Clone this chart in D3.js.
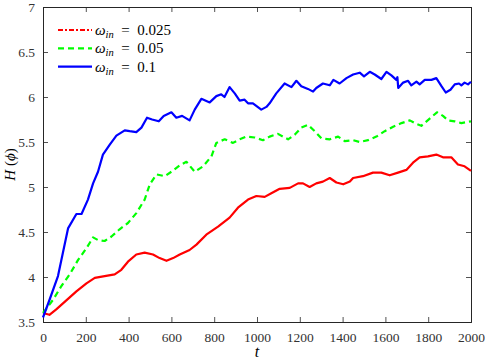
<!DOCTYPE html>
<html>
<head>
<meta charset="utf-8">
<script src="https://cdn.jsdelivr.net/npm/d3@7"></script>
<style>
  body { margin: 0; background: #fff; }
</style>
</head>
<body>
<div id="chart"></div>
<script>
"use strict";

// == DATA ==
var xTicks = [0, 200, 400, 600, 800, 1000, 1200, 1400, 1600, 1800, 2000];
var yTicks = [3.5, 4, 4.5, 5, 5.5, 6, 6.5, 7];
var seriesNames = ["0.025", "0.05", "0.1"];

var redT = [0, 30, 62, 109, 156, 203, 242, 288, 335, 366, 397, 436, 475, 514, 545, 577, 608, 639, 685, 717, 763, 818, 872, 911, 958, 997, 1036, 1067, 1106, 1153, 1192, 1215, 1246, 1277, 1308, 1340, 1371, 1403, 1434, 1449, 1495, 1542, 1581, 1620, 1659, 1698, 1729, 1760, 1799, 1838, 1869, 1908, 1939, 1970, 2000];
var redH = [3.6, 3.58, 3.64, 3.74, 3.84, 3.93, 3.99, 4.01, 4.03, 4.08, 4.17, 4.25, 4.27, 4.25, 4.21, 4.18, 4.21, 4.25, 4.30, 4.36, 4.47, 4.56, 4.66, 4.77, 4.86, 4.90, 4.89, 4.93, 4.98, 4.99, 5.04, 5.04, 5.00, 5.04, 5.06, 5.10, 5.05, 5.03, 5.06, 5.10, 5.12, 5.16, 5.16, 5.13, 5.16, 5.19, 5.27, 5.33, 5.34, 5.36, 5.33, 5.33, 5.25, 5.23, 5.18];

var greenT = [0, 48, 86, 125, 164, 203, 234, 257, 288, 320, 358, 397, 436, 475, 499, 530, 569, 600, 639, 670, 709, 748, 787, 810, 849, 888, 919, 950, 989, 1028, 1059, 1098, 1145, 1176, 1207, 1238, 1270, 1301, 1340, 1379, 1410, 1449, 1480, 1519, 1558, 1597, 1636, 1675, 1714, 1745, 1768, 1807, 1841, 1869, 1893, 1924, 1955, 2000];
var greenH = [3.6, 3.75, 3.90, 4.03, 4.19, 4.32, 4.44, 4.41, 4.40, 4.45, 4.53, 4.60, 4.71, 4.86, 5.03, 5.14, 5.12, 5.17, 5.24, 5.28, 5.17, 5.23, 5.34, 5.49, 5.53, 5.49, 5.53, 5.56, 5.55, 5.52, 5.56, 5.59, 5.53, 5.58, 5.66, 5.69, 5.62, 5.54, 5.53, 5.56, 5.51, 5.52, 5.50, 5.52, 5.56, 5.62, 5.67, 5.71, 5.74, 5.70, 5.68, 5.76, 5.83, 5.79, 5.74, 5.73, 5.71, 5.73];

var blueT = [0, 31, 70, 93, 117, 156, 180, 210, 234, 257, 280, 312, 343, 382, 405, 436, 460, 486, 510, 541, 564, 600, 623, 650, 685, 709, 740, 779, 810, 833, 848, 872, 896, 919, 942, 958, 981, 1020, 1044, 1059, 1090, 1129, 1161, 1184, 1207, 1238, 1262, 1277, 1308, 1340, 1357, 1386, 1418, 1449, 1480, 1500, 1527, 1550, 1581, 1605, 1628, 1651, 1656, 1660, 1683, 1706, 1721, 1745, 1760, 1784, 1815, 1838, 1862, 1882, 1904, 1924, 1944, 1955, 1970, 1986, 2000];
var blueH = [3.55, 3.75, 4.01, 4.27, 4.54, 4.70, 4.70, 4.86, 5.04, 5.17, 5.36, 5.47, 5.57, 5.63, 5.62, 5.61, 5.66, 5.77, 5.75, 5.73, 5.79, 5.83, 5.77, 5.79, 5.74, 5.86, 5.98, 5.94, 6.01, 6.03, 6.00, 6.11, 6.04, 5.96, 5.97, 5.93, 5.93, 5.86, 5.89, 5.93, 6.04, 6.15, 6.11, 6.18, 6.12, 6.09, 6.06, 6.10, 6.15, 6.13, 6.19, 6.15, 6.21, 6.25, 6.27, 6.23, 6.28, 6.25, 6.20, 6.28, 6.24, 6.19, 6.22, 6.10, 6.16, 6.18, 6.13, 6.17, 6.14, 6.19, 6.19, 6.21, 6.12, 6.05, 6.08, 6.14, 6.15, 6.13, 6.16, 6.14, 6.17];

// == BOILERPLATE ==
var W = 485, H = 363;
var margin = { top: 7, right: 14, bottom: 41, left: 43 },
    width = W - margin.left - margin.right,
    height = H - margin.top - margin.bottom;
var serif = "'Liberation Serif'";

var svg = d3.select("#chart")
            .append("svg")
            .attr("width", W)
            .attr("height", H)
            .style("font-family", serif);

var g = svg.append("g")
           .attr("transform", "translate(" + margin.left + "," + margin.top + ")");

var x = d3.scaleLinear().domain([0, 2000]).range([0, width]);
var y = d3.scaleLinear().domain([3.5, 7]).range([height, 0]);

var axisColor = "#262626";

// axes with ticks pointing inward, box on all sides
var xAxis = g.append("g")
  .attr("transform", "translate(0," + height + ")")
  .call(d3.axisBottom(x).tickValues(xTicks).tickSize(-5).tickPadding(10).tickFormat(d3.format("d")));
var xTop = g.append("g")
  .call(d3.axisTop(x).tickValues(xTicks).tickSize(-5).tickFormat(""));
var yAxis = g.append("g")
  .call(d3.axisLeft(y).tickValues(yTicks).tickSize(-5).tickPadding(8).tickFormat(function(d){ return d; }));
var yRight = g.append("g")
  .attr("transform", "translate(" + width + ",0)")
  .call(d3.axisRight(y).tickValues(yTicks).tickSize(-5).tickFormat(""));

[xAxis, xTop, yAxis, yRight].forEach(function(a){
  a.attr("font-family", null).attr("font-size", null);
  a.selectAll("path").attr("stroke", axisColor).attr("stroke-width", 1);
  a.selectAll("line").attr("stroke", axisColor).attr("stroke-width", 0.8);
  a.selectAll("text").attr("fill", "#333")
   .style("font-family", serif).style("font-size", "13.5px");
});

// == LINES ==
var line = d3.line()
  .x(function(d){ return x(d[0]); })
  .y(function(d){ return y(d[1]); })
  .curve(d3.curveLinear);

var series = [
  { name: seriesNames[0], t: redT, v: redH, color: "#ff0000", dash: null, legendDash: "5,2,2,2" },
  { name: seriesNames[1], t: greenT, v: greenH, color: "#00ff00", dash: "6,4", legendDash: "6,4" },
  { name: seriesNames[2], t: blueT, v: blueH, color: "#0000ff", dash: null, legendDash: null }
];

series.forEach(function(s){
  var pts = s.t.map(function(t, i){ return [t, s.v[i]]; });
  g.append("path")
   .datum(pts)
   .attr("fill", "none")
   .attr("stroke", s.color)
   .attr("stroke-width", 2.2)
   .attr("stroke-linejoin", "round")
   .attr("stroke-dasharray", s.dash)
   .attr("d", line);
});

// == LEGEND ==
var legend = g.append("g").attr("transform", "translate(15,23)");
series.forEach(function(s, i){
  var row = legend.append("g").attr("transform", "translate(0," + (i * 18.3) + ")");
  row.append("line")
     .attr("x1", 0).attr("x2", 34).attr("y1", 0).attr("y2", 0)
     .attr("stroke", s.color).attr("stroke-width", 2.2)
     .attr("stroke-dasharray", s.legendDash);
  var txt = row.append("text")
     .attr("x", 37).attr("y", 5)
     .style("font-family", serif)
     .style("font-size", "15px").attr("fill", "#000");
  txt.append("tspan").style("font-style", "italic").text("ω");
  txt.append("tspan").style("font-style", "italic").style("font-size", "10.5px").attr("dy", 3).text("in");
  txt.append("tspan").attr("dy", -3).text("\u2002=\u2002" + s.name);
});

// == AXIS LABELS ==
svg.append("text")
   .attr("x", margin.left + width / 2)
   .attr("y", H - 6)
   .attr("text-anchor", "middle")
   .style("font-family", serif)
   .style("font-size", "16px")
   .style("font-style", "italic")
   .text("t");

var yl = svg.append("text")
   .attr("transform", "translate(15," + (margin.top + height / 2) + ") rotate(-90)")
   .attr("text-anchor", "middle")
   .style("font-family", serif)
   .style("font-size", "15px");
yl.append("tspan").style("font-style", "italic").text("H");
yl.append("tspan").text(" (");
yl.append("tspan").style("font-style", "italic").text("ϕ");
yl.append("tspan").text(")");
</script>
</body>
</html>
